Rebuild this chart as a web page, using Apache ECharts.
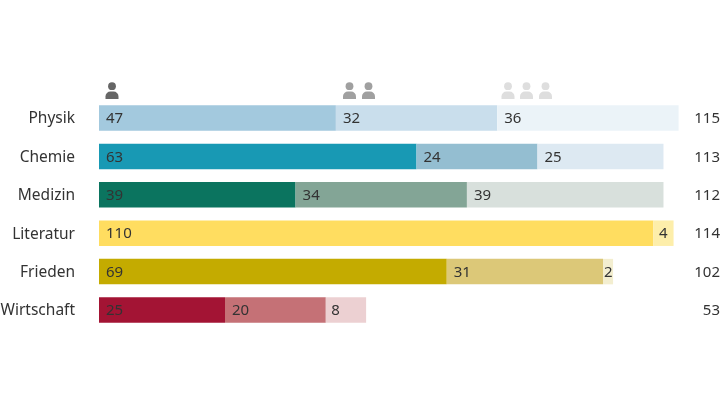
<!DOCTYPE html>
<html>
<head>
<meta charset="utf-8">
<style>html,body{margin:0;padding:0;background:#fff}#chart{width:720px;height:405px}</style>
<script src="https://cdn.jsdelivr.net/npm/echarts@6/dist/echarts.min.js"></script>
</head>
<body>
<div id="chart"></div>
<script>
// Nobel laureates per prize, split by how many people shared the prize
const categories = ['Physik', 'Chemie', 'Medizin', 'Literatur', 'Frieden', 'Wirtschaft'];
const soloPrize = [47, 63, 39, 110, 69, 25];
const sharedByTwo = [32, 24, 34, 4, 31, 20];
const sharedByThree = [36, 25, 39, null, 2, 8];
const totals = [115, 113, 112, 114, 102, 53];

const soloColors = ['#a3c9de', '#1899b4', '#0b745f', '#ffdd60', '#c4ab00', '#a31434'];
const twoColors = ['#c9deec', '#94bed1', '#83a596', '#fdeeaa', '#dcc878', '#c57176'];
const threeColors = ['#ebf3f8', '#dde9f2', '#d8e0dc', '#fdeeaa', '#f3eed0', '#ecd0d2'];

const FONT = '"Noto Sans", sans-serif';
const TEXT = '#333333';

function stackSeries(name, values, colors) {
  return {
    name,
    type: 'bar',
    stack: 'prizes',
    barWidth: 25.5,
    silent: true,
    data: values.map((value, i) => ({
      value,
      itemStyle: { color: colors[i] },
      // very short segments keep their number tight against the left edge
      label: value !== null && value < 3 ? { distance: 1 } : value !== null && value < 10 ? { distance: 5.5 } : undefined
    })),
    label: {
      show: true,
      position: 'insideLeft',
      distance: 7,
      offset: [0, 1],
      color: TEXT,
      fontFamily: FONT,
      fontSize: 15
    }
  };
}

// One person glyph: head plus rounded shoulders
function person(cx, color) {
  return {
    type: 'group',
    x: cx,
    y: 82,
    silent: true,
    children: [
      { type: 'circle', shape: { cx: 0, cy: 4.2, r: 3.9 }, style: { fill: color } },
      {
        type: 'rect',
        shape: { x: -6.5, y: 9.5, width: 13, height: 7.5, r: [5, 5, 0, 0] },
        style: { fill: color }
      }
    ]
  };
}

const chart = echarts.init(document.getElementById('chart'), null, { renderer: 'canvas' });
chart.setOption({
  animation: false,
  backgroundColor: '#ffffff',
  grid: { left: 99, top: 98.8, width: 604.8, height: 230.4, containLabel: false, outerBoundsMode: 'none' },
  xAxis: { type: 'value', min: 0, max: 120, show: false },
  yAxis: [
    {
      type: 'category',
      inverse: true,
      data: categories,
      axisLine: { show: false },
      axisTick: { show: false },
      axisLabel: { margin: 24, verticalAlign: 'top', lineHeight: 2, color: TEXT, fontFamily: FONT, fontSize: 15.5 }
    },
    {
      type: 'category',
      inverse: true,
      position: 'right',
      data: totals,
      axisLine: { show: false },
      axisTick: { show: false },
      axisLabel: { margin: 16.2, verticalAlign: 'top', lineHeight: 2, align: 'right', color: TEXT, fontFamily: FONT, fontSize: 15 }
    }
  ],
  series: [
    stackSeries('Ein Preisträger', soloPrize, soloColors),
    stackSeries('Zwei Preisträger', sharedByTwo, twoColors),
    stackSeries('Drei Preisträger', sharedByThree, threeColors)
  ],
  graphic: [
    person(112, '#666666'),
    person(349.5, '#a0a0a0'),
    person(368.5, '#a0a0a0'),
    person(508, '#dedede'),
    person(526.5, '#dedede'),
    person(545.5, '#dedede')
  ]
});
</script>
</body>
</html>
